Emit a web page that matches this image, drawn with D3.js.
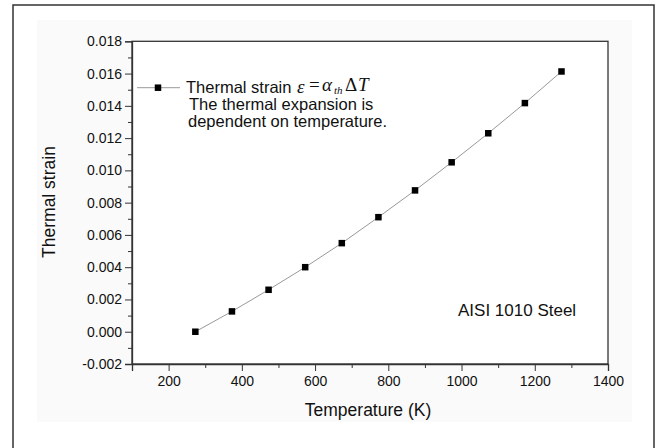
<!DOCTYPE html>
<html lang="en">
<head>
<meta charset="UTF-8">
<title>Thermal strain</title>
<script src="https://d3js.org/d3.v7.min.js"></script>
<style>
    body { margin: 0; background: #fff; }
    svg { display: block; }
    text { font-family: "Liberation Sans", Arial, sans-serif; fill: #111; }
    .axis path, .axis line { stroke: #333; }
    .axis text { font-size: 14px; fill: #111; }
</style>
</head>
<body>
<div id="chart"></div>
<script>
// data
const temperature = [273, 373, 473, 573, 673, 773, 873, 973, 1073, 1173, 1273];
const strain = [0.0000, 0.00126, 0.0026, 0.0040, 0.00549, 0.0071, 0.00876, 0.0105, 0.0123, 0.01417, 0.01613];

const xMajor = [200, 400, 600, 800, 1000, 1200, 1400];
const xMinor = [100, 300, 500, 700, 900, 1100, 1300];
const yMajor = [-0.002, 0.000, 0.002, 0.004, 0.006, 0.008, 0.010, 0.012, 0.014, 0.016, 0.018];
const yMinor = [-0.001, 0.001, 0.003, 0.005, 0.007, 0.009, 0.011, 0.013, 0.015, 0.017];

const width = 668, height = 448;
const plot = { left: 132, right: 608, top: 41.3, bottom: 364 };

const svg = d3.select("#chart").append("svg")
    .attr("width", width)
    .attr("height", height);

// outer frame and faint panel
svg.append("rect")
    .attr("x", 13).attr("y", 5)
    .attr("width", 641).attr("height", 460)
    .attr("fill", "#fff")
    .attr("stroke", "#333")
    .attr("stroke-width", 1.5);

svg.append("rect")
    .attr("x", 37).attr("y", 20)
    .attr("width", 595).attr("height", 402)
    .attr("fill", "#fafafa");

const x = d3.scaleLinear().domain([100, 1400]).range([plot.left, plot.right]);
const y = d3.scaleLinear().domain([-0.002, 0.018]).range([plot.bottom, plot.top]);

// plot box
svg.append("rect")
    .attr("x", plot.left).attr("y", plot.top)
    .attr("width", plot.right - plot.left)
    .attr("height", plot.bottom - plot.top)
    .attr("fill", "#fff")
    .attr("stroke", "#333")
    .attr("stroke-width", 1.3);

// x axis
svg.append("g")
    .attr("class", "axis")
    .attr("transform", `translate(0,${plot.bottom})`)
    .call(d3.axisBottom(x).tickValues(xMinor).tickSize(4).tickFormat(""))
    .call(g => g.select(".domain").remove());

svg.append("g")
    .attr("class", "axis")
    .attr("transform", `translate(0,${plot.bottom})`)
    .call(d3.axisBottom(x).tickValues(xMajor).tickSize(7).tickPadding(5).tickFormat(d3.format("d")))
    .call(g => g.select(".domain").attr("stroke-width", 1.3));

// y axis
svg.append("g")
    .attr("class", "axis")
    .attr("transform", `translate(${plot.left},0)`)
    .call(d3.axisLeft(y).tickValues(yMinor).tickSize(4).tickFormat(""))
    .call(g => g.select(".domain").remove());

svg.append("g")
    .attr("class", "axis")
    .attr("transform", `translate(${plot.left},0)`)
    .call(d3.axisLeft(y).tickValues(yMajor).tickSize(7).tickPadding(3).tickFormat(d => d.toFixed(3)))
    .call(g => g.select(".domain").attr("stroke-width", 1.3));

// axis titles
svg.append("text")
    .attr("x", 368).attr("y", 416)
    .attr("text-anchor", "middle")
    .style("font-size", "17.5px")
    .text("Temperature (K)");

svg.append("text")
    .attr("transform", "translate(55,202) rotate(-90)")
    .attr("text-anchor", "middle")
    .style("font-size", "17.5px")
    .text("Thermal strain");

// series
const points = temperature.map((t, i) => [t, strain[i]]);

svg.append("path")
    .datum(points)
    .attr("fill", "none")
    .attr("stroke", "#999")
    .attr("stroke-width", 1)
    .attr("d", d3.line().x(d => x(d[0])).y(d => y(d[1])));

const sz = 6.5;
svg.append("g")
    .selectAll("rect")
    .data(points)
    .join("rect")
    .attr("x", d => x(d[0]) - sz / 2)
    .attr("y", d => y(d[1]) - sz / 2)
    .attr("width", sz)
    .attr("height", sz)
    .attr("fill", "#000");

// legend
svg.append("line")
    .attr("x1", 137).attr("x2", 180)
    .attr("y1", 87.7).attr("y2", 87.7)
    .attr("stroke", "#999");
svg.append("rect")
    .attr("x", 158 - sz / 2).attr("y", 87.7 - sz / 2)
    .attr("width", sz).attr("height", sz)
    .attr("fill", "#000");

svg.append("text")
    .attr("x", 186).attr("y", 93)
    .style("font-size", "16.5px")
    .text("Thermal strain");

// formula: eps = alpha_th dT
const formula = svg.append("text")
    .attr("y", 91)
    .style("font-family", "'Liberation Serif', 'Times New Roman', serif")
    .style("font-size", "19px");
formula.append("tspan").attr("x", 297).attr("dy", 2).style("font-style", "italic").text("ε");
formula.append("tspan").attr("x", 309).attr("dy", -2).text("=");
formula.append("tspan").attr("x", 322).style("font-style", "italic").text("α");
formula.append("tspan").attr("x", 334).attr("dy", 3).style("font-style", "italic").style("font-size", "11px").text("th");
formula.append("tspan").attr("x", 345).attr("dy", -3).text("Δ");
formula.append("tspan").attr("x", 358).style("font-style", "italic").text("T");

svg.append("text")
    .attr("x", 189).attr("y", 110)
    .style("font-size", "16.5px")
    .text("The thermal expansion is");

svg.append("text")
    .attr("x", 188).attr("y", 127)
    .style("font-size", "16.5px")
    .text("dependent on temperature.");

svg.append("text")
    .attr("x", 458).attr("y", 316)
    .style("font-size", "17px")
    .text("AISI 1010 Steel");
</script>
</body>
</html>
